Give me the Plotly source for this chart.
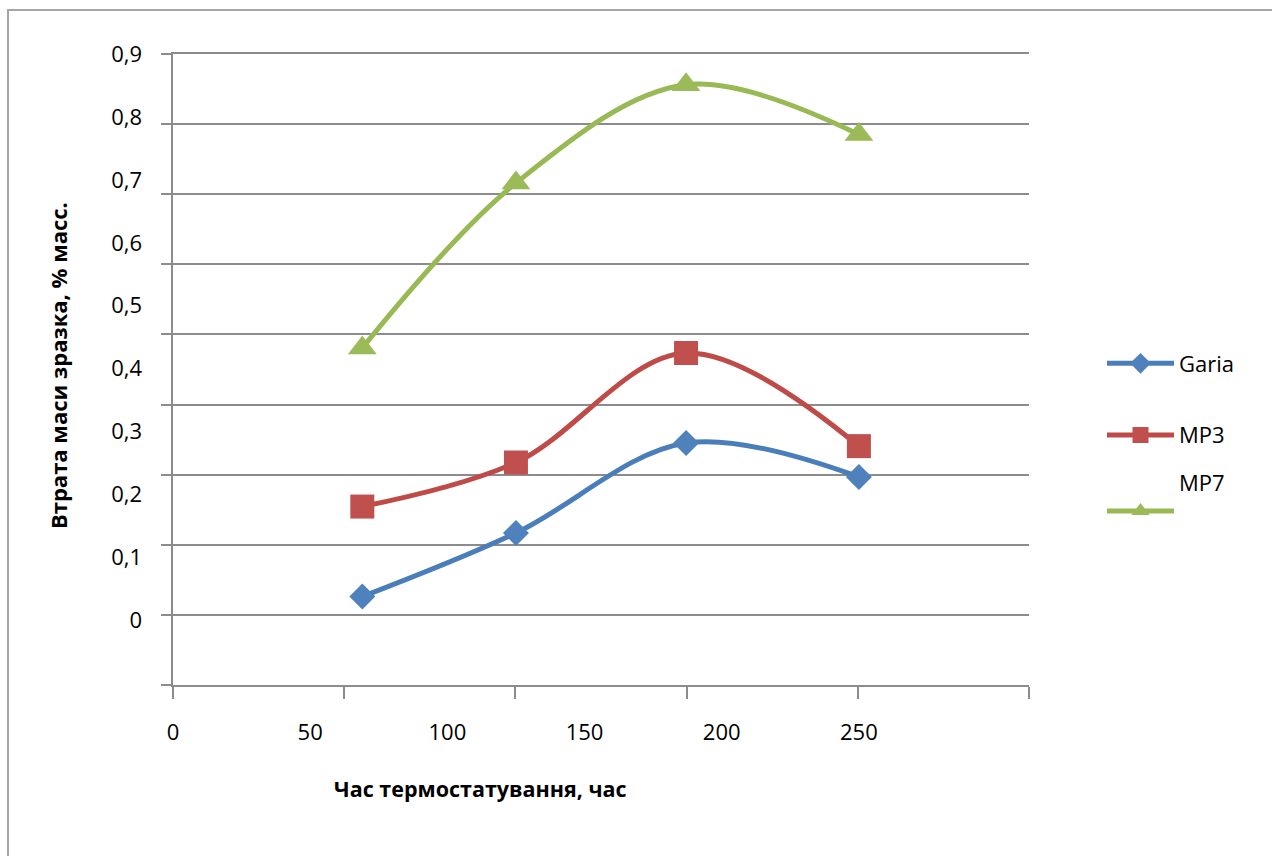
import plotly.graph_objects as go

# Thermostatting time (h) and sample mass loss (% mass)
hours = [69, 125, 187, 250]
garia = [0.038, 0.139, 0.282, 0.228]
mp3 = [0.181, 0.251, 0.425, 0.277]
mp7 = [0.433, 0.695, 0.851, 0.772]

x_ticks = [0, 50, 100, 150, 200, 250]
y_ticks = [0, 0.1, 0.2, 0.3, 0.4, 0.5, 0.6, 0.7, 0.8, 0.9]
y_tick_text = ["0", "0,1", "0,2", "0,3", "0,4", "0,5", "0,6", "0,7", "0,8", "0,9"]

FONT = "Open Sans"
GRID = "#8c8c8c"

series = [
    ("Garia", garia, "#4A7EBB", "#4F81BD", "diamond", 20, "legend"),
    ("MP3", mp3, "#BE4B48", "#C0504D", "square", 24, "legend"),
    ("MP7", mp7, "#98B954", "#9BBB59", "triangle-up", 25, "legend2"),
]

fig = go.Figure()

# invisible trace that anchors the frame axes (gridlines and tick marks)
fig.add_trace(go.Scatter(x=[0, 5], y=[0, 9], mode="none", showlegend=False,
                         hoverinfo="skip", xaxis="x", yaxis="y"))

for name, vals, lc, mc, sym, ms, leg in series:
    fig.add_trace(go.Scatter(
        x=hours, y=vals, name=name if name != "MP7" else "MP7<br>\u00a0",
        mode="lines+markers", xaxis="x2", yaxis="y2",
        line=dict(color=lc, width=5, shape="spline", smoothing=1.0),
        marker=dict(symbol=sym, size=ms, color=mc, line=dict(width=0)),
        legendgroup=name, legend=leg,
    ))

legend_x = (1102 - 173) / 856
fig.update_layout(
    width=1272, height=856,
    margin=dict(l=173, r=243, t=54, b=171),
    paper_bgcolor="white", plot_bgcolor="white",
    font=dict(family=FONT, size=22, color="black"),
    # frame axes: gridlines and tick marks
    xaxis=dict(range=[0, 5], tickvals=[0, 1, 2, 3, 4, 5], showticklabels=False,
               ticks="outside", ticklen=12, tickwidth=1.5, tickcolor=GRID,
               showline=True, mirror=True, linecolor=GRID, linewidth=1.5,
               showgrid=False, zeroline=False),
    yaxis=dict(range=[0, 9], tickvals=list(range(10)), showticklabels=False,
               ticks="outside", ticklen=10, tickwidth=1.5, tickcolor=GRID,
               showline=True, linecolor=GRID, linewidth=1.5,
               showgrid=True, gridcolor=GRID, gridwidth=1.5, zeroline=False),
    # value axes: tick labels and data
    xaxis2=dict(overlaying="x", side="bottom", range=[0, 312], tickvals=x_ticks,
                showgrid=False, zeroline=False, showline=False, ticks="",
                ticklabelstandoff=32, tickfont=dict(size=22)),
    yaxis2=dict(overlaying="y", side="left", range=[-0.1025, 0.9], tickvals=y_ticks,
                ticktext=y_tick_text, showgrid=False, zeroline=False, showline=False,
                ticks="", ticklabelstandoff=30, tickfont=dict(size=22)),
    legend=dict(x=legend_x, y=(685 - 399.5) / 631, xanchor="left", yanchor="middle",
                font=dict(size=22), tracegroupgap=40, valign="bottom",
                itemwidth=67, bgcolor="rgba(0,0,0,0)"),
    legend2=dict(x=legend_x, y=(685 - 497) / 631, xanchor="left", yanchor="middle",
                 font=dict(size=22), valign="bottom",
                 itemwidth=67, bgcolor="rgba(0,0,0,0)"),
    showlegend=True,
)

fig.add_annotation(text="<b>Час термостатування, час</b>", xref="paper", yref="paper",
                   x=(480 - 173) / 856, y=(685 - 788) / 631, showarrow=False,
                   font=dict(size=21.5), xanchor="center", yanchor="middle")
fig.add_annotation(text="<b>Втрата маси зразка, % масс.</b>", xref="paper", yref="paper",
                   x=(58 - 173) / 856, y=(685 - 366) / 631, showarrow=False,
                   textangle=-90, font=dict(size=22), xanchor="center", yanchor="middle")

# chart-area border
fig.add_shape(type="rect", xref="paper", yref="paper",
              x0=(8 - 173) / 856, x1=(1300 - 173) / 856,
              y0=(685 - 900) / 631, y1=(685 - 10) / 631,
              line=dict(color="#a6a6a6", width=2), layer="below")

fig.write_html("out.html")
